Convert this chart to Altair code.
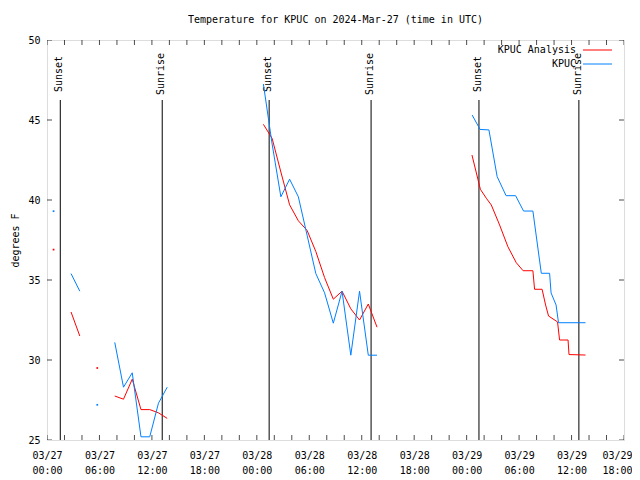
import json
import altair as alt
import pandas as pd

FONT = "DejaVu Sans Mono"
title_text = "Temperature for KPUC on 2024-Mar-27 (time in UTC)"
y_title = "degrees F"
series_names = ["KPUC Analysis", "KPUC"]
series_colors = ["#ff0000", "#0080ff"]

# hours after 2024-03-27 00:00 UTC; None marks a missing value (gap)
analysis_hours = [0.75, 1.75, 2.75, 3.75, 4.75, 5.75, 6.75, 7.75, 8.75, 9.75, 10.75, 11.75,
                  12.75, 13.75, 14.75,
                  24.75, 25.75, 26.75, 27.75, 28.75, 29.75, 30.75, 31.75, 32.75, 33.75, 34.75,
                  35.75, 36.75, 37.75, 38.75,
                  48.61, 49.57, 50.25, 50.82, 51.77, 52.72, 53.68, 54.46, 55.58, 55.77, 56.63,
                  57.03, 57.37, 58.40, 58.63, 59.60, 59.71, 61.60]
analysis_temps = [36.9, None, 33.0, 31.5, None, 29.5, None, 27.75, 27.55, 28.8, 26.9, 26.9,
                  26.7, 26.35, None,
                  44.73, 43.85, 41.75, 39.7, 38.7, 38.1, 36.78, 35.15, 33.8, 34.3, 33.2,
                  32.5, 33.5, 32.05, None,
                  42.81, 40.67, 40.11, 39.69, 38.44, 37.08, 36.08, 35.58, 35.58, 34.42, 34.42,
                  33.44, 32.75, 32.38, 31.25, 31.25, 30.34, 30.31]

obs_hours = [0.75, 1.75, 2.75, 3.75, 4.75, 5.75, 6.75, 7.75, 8.75, 9.75, 10.75, 11.75,
             12.75, 13.75, 14.75,
             24.75, 25.75, 26.75, 27.75, 28.75, 29.75, 30.75, 31.75, 32.75, 33.75, 34.75,
             35.75, 36.75, 37.75, 38.75,
             48.63, 49.54, 50.55, 51.49, 52.51, 53.60, 54.51, 55.58, 56.54, 57.49, 57.66,
             58.23, 58.51, 61.60]
obs_temps = [39.3, None, 35.4, 34.3, None, 27.2, None, 31.1, 28.3, 29.2, 25.2, 25.2,
             27.3, 28.3, None,
             47.25, 43.5, 40.2, 41.3, 40.2, 37.8, 35.4, 34.2, 32.3, 34.3, 30.3,
             34.3, 30.3, 30.3, None,
             45.31, 44.41, 44.38, 41.46, 40.27, 40.27, 39.31, 39.31, 35.42, 35.42, 34.19,
             33.44, 32.33, 32.33]

event_names = ["Sunset", "Sunrise", "Sunset", "Sunrise", "Sunset", "Sunrise"]
event_hours = [1.52, 13.18, 25.41, 37.07, 49.41, 60.84]

x_tick_hours = list(range(0, 67, 2))
x_label_hours = list(range(0, 67, 6))
x_tick_labels = ["03/27 00:00", "03/27 06:00", "03/27 12:00", "03/27 18:00",
                 "03/28 00:00", "03/28 06:00", "03/28 12:00", "03/28 18:00",
                 "03/29 00:00", "03/29 06:00", "03/29 12:00", "03/29 18:00"]
y_ticks = [25, 30, 35, 40, 45, 50]


def build(name, hours, temps):
    df = pd.DataFrame({"hour": hours, "temp": temps})
    df["seg"] = df["temp"].isna().cumsum()
    df = df.dropna().copy()
    df["series"] = name
    df["n"] = df.groupby("seg")["temp"].transform("size")
    df["key"] = name + "_" + df["seg"].astype(str)
    return df


lines_df = pd.concat([build(series_names[0], analysis_hours, analysis_temps),
                      build(series_names[1], obs_hours, obs_temps)], ignore_index=True)
single_df = lines_df[lines_df["n"] == 1]

XS = alt.Scale(domain=[0, 66], nice=False, zero=False)
YS = alt.Scale(domain=[25, 50], nice=False, zero=False)
CS = alt.Scale(domain=series_names, range=series_colors)

label_expr = "split(" + json.dumps(x_tick_labels) + "[round(datum.value / 6)], ' ')"

x_axis = alt.Axis(values=x_label_hours, labelExpr=label_expr, ticks=False, domain=False,
                  grid=False, title=None, labelPadding=10, labelLineHeight=15,
                  labelFont=FONT, labelFontSize=10, labelColor="black", labelFlush=False,
                  labelOverlap=False,
                  labelOffset={"condition": {"test": "datum.value >= 66", "value": -7},
                               "value": 0})
y_axis = alt.Axis(values=y_ticks, ticks=False, domain=False, grid=False, title=y_title,
                  labelPadding=7, labelFont=FONT, labelFontSize=10, labelColor="black",
                  titleFont=FONT, titleFontSize=10, titleFontWeight="normal",
                  titleColor="black", titleX=-32, titleY=200, titleAngle=270,
                  titleAlign="center", titleBaseline="middle")


def X(field):
    return alt.X(field, type="quantitative", scale=XS, axis=x_axis)


def Y(field):
    return alt.Y(field, type="quantitative", scale=YS, axis=y_axis)


ev_df = pd.DataFrame({"event": event_names, "hour": event_hours,
                      "y0": [25] * 6, "y1": [46.25] * 6})

ev_rules = alt.Chart(ev_df).mark_rule(color="black", strokeWidth=1).encode(
    x=X("hour"), y=Y("y0"), y2="y1:Q",
)
ev_text = alt.Chart(ev_df).mark_text(angle=270, align="center", baseline="middle",
                                     font=FONT, fontSize=10, color="black", dy=-1).encode(
    x=X("hour"), y=alt.value(34), text="event:N",
)

lines = alt.Chart(lines_df).mark_line(strokeWidth=1, clip=True).encode(
    x=X("hour"), y=Y("temp"),
    color=alt.Color("series:N", scale=CS, legend=None),
    detail="key:N",
)
dots = alt.Chart(single_df).mark_square(size=3, opacity=1).encode(
    x=X("hour"), y=Y("temp"),
    color=alt.Color("series:N", scale=CS, legend=None),
)

xt_df = pd.DataFrame({"hour": x_tick_hours * 2,
                      "yv": [25] * len(x_tick_hours) + [50] * len(x_tick_hours)})
yt_df = pd.DataFrame({"temp": y_ticks * 2, "xv": [0] * len(y_ticks) + [66] * len(y_ticks)})

x_ticks = alt.Chart(xt_df).mark_tick(orient="vertical", size=10, thickness=1, color="black",
                                     clip=True).encode(x=X("hour"), y=Y("yv"))
y_ticks_layer = alt.Chart(yt_df).mark_tick(orient="horizontal", size=10, thickness=1,
                                           color="black", clip=True).encode(x=X("xv"), y=Y("temp"))

legend_layers = []
for i, (name, col) in enumerate(zip(series_names, series_colors)):
    ypix = 10 + 14 * i
    d = pd.DataFrame({"label": [name]})
    legend_layers.append(alt.Chart(d).mark_text(align="right", baseline="middle", font=FONT,
                                                fontSize=10, color="black").encode(
        x=alt.value(529), y=alt.value(ypix), text="label:N"))
    legend_layers.append(alt.Chart(d).mark_rule(color=col, strokeWidth=1).encode(
        x=alt.value(536), x2=alt.value(565), y=alt.value(ypix)))

chart = alt.layer(ev_rules, ev_text, x_ticks, y_ticks_layer, lines, dots, *legend_layers).properties(
    width=577, height=400,
    autosize="none",
    padding={"left": 39, "top": 32, "right": 8, "bottom": 38},
    title=alt.TitleParams(title_text, font=FONT, fontSize=10, fontWeight="normal",
                          color="black", anchor="middle", offset=2, baseline="alphabetic"),
).configure_view(stroke="black", strokeWidth=1).configure(background="white")

chart.save("out.html", embed_options={"renderer": "svg", "actions": False})
